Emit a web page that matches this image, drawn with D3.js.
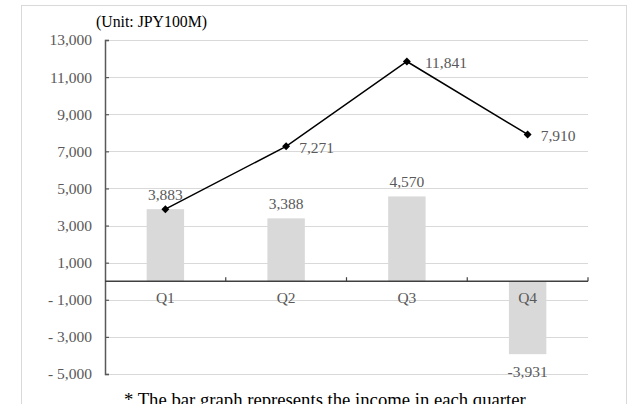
<!DOCTYPE html>
<html>
<head>
<meta charset="utf-8">
<script src="https://cdn.jsdelivr.net/npm/d3@7"></script>
<style>
  html, body { margin: 0; padding: 0; background: #fff; }
  svg { display: block; }
  text { font-family: "Liberation Serif", "Times New Roman", serif; }
</style>
</head>
<body>
<script>
// Quarterly income (bars) and running cumulative total (line), JPY 100M
const quarters = ["Q1", "Q2", "Q3", "Q4"];
const income = [3883, 3388, 4570, -3931];
const cumulative = [3883, 7271, 11841, 7910];
const yTicks = [-5000, -3000, -1000, 1000, 3000, 5000, 7000, 9000, 11000, 13000];
const unitLabel = "(Unit: JPY100M)";
const footnote = "* The bar graph represents the income in each quarter";

const W = 632, H = 404;
const svg = d3.select("body").append("svg").attr("width", W).attr("height", H);

// outer frame
svg.append("rect")
  .attr("x", 21.5).attr("y", 5.5).attr("width", 605).attr("height", 420)
  .attr("fill", "#fff").attr("stroke", "#d9d9d9").attr("stroke-width", 1);

const plot = { left: 105, right: 588, top: 40, bottom: 374 };

const x = d3.scaleBand().domain(quarters).range([plot.left, plot.right]).padding(0);
const y = d3.scaleLinear().domain([-5000, 13000]).range([plot.bottom, plot.top]);

const fmtAbs = d3.format(",");
const fmt = v => (v < 0 ? "-" : "") + fmtAbs(Math.abs(v));
const tickFmt = v => v < 0 ? "- " + fmtAbs(-v) : fmtAbs(v);

// horizontal gridlines
svg.append("g").selectAll("line").data(yTicks).join("line")
  .attr("x1", plot.left).attr("x2", plot.right)
  .attr("y1", d => Math.round(y(d)) + 0.5).attr("y2", d => Math.round(y(d)) + 0.5)
  .attr("stroke", "#d9d9d9").attr("stroke-width", 1);

// bars
const barW = x.bandwidth() * 0.31;
svg.append("g").selectAll("rect").data(income).join("rect")
  .attr("x", (d, i) => x(quarters[i]) + x.bandwidth() / 2 - barW / 2)
  .attr("y", d => y(Math.max(0, d)))
  .attr("width", barW)
  .attr("height", d => Math.abs(y(d) - y(0)))
  .attr("fill", "#d9d9d9");

// left value axis
const yAxis = d3.axisRight(y).tickValues(yTicks).tickSize(4).tickFormat("");
const ya = svg.append("g").attr("transform", `translate(${plot.left},0)`).call(yAxis);
ya.select(".domain").attr("stroke", "#595959").attr("stroke-width", 1.5);
ya.selectAll(".tick line").attr("stroke", "#595959").attr("stroke-width", 1.2);

svg.append("g").selectAll("text").data(yTicks).join("text")
  .attr("x", 92).attr("y", d => y(d))
  .attr("text-anchor", "end").attr("dy", "0.35em")
  .attr("font-size", 15.5).attr("fill", "#595959")
  .text(tickFmt);

// category axis along zero, with boundary ticks pointing up
const zeroY = y(0);
svg.append("line")
  .attr("x1", plot.left).attr("x2", plot.right)
  .attr("y1", zeroY).attr("y2", zeroY)
  .attr("stroke", "#404040").attr("stroke-width", 1.5);
const bounds = quarters.map(q => x(q) + x.bandwidth());
svg.append("g").selectAll("line").data(bounds).join("line")
  .attr("x1", d => d).attr("x2", d => d)
  .attr("y1", zeroY).attr("y2", zeroY - 4)
  .attr("stroke", "#404040").attr("stroke-width", 1.2);

svg.append("g").selectAll("text").data(quarters).join("text")
  .attr("x", d => x(d) + x.bandwidth() / 2).attr("y", zeroY + 22)
  .attr("text-anchor", "middle")
  .attr("font-size", 15.5).attr("fill", "#595959")
  .text(d => d);

// bar value labels
svg.append("g").selectAll("text").data(income).join("text")
  .attr("x", (d, i) => x(quarters[i]) + x.bandwidth() / 2)
  .attr("y", d => d >= 0 ? y(d) - 9 : y(d) + 23)
  .attr("text-anchor", "middle")
  .attr("font-size", 15.5).attr("fill", "#595959")
  .text(d => fmt(d));

// cumulative line
const cx = (d, i) => x(quarters[i]) + x.bandwidth() / 2;
svg.append("path")
  .datum(cumulative)
  .attr("d", d3.line().x(cx).y(d => y(d)))
  .attr("fill", "none").attr("stroke", "#000").attr("stroke-width", 1.5);

svg.append("g").selectAll("path").data(cumulative).join("path")
  .attr("transform", (d, i) => `translate(${cx(d, i)},${y(d)})`)
  .attr("d", d3.symbol(d3.symbolDiamond2, 40))
  .attr("fill", "#000");

// line value labels (first point shares the bar label)
svg.append("g").selectAll("text").data(cumulative.slice(1)).join("text")
  .attr("x", (d, i) => cx(d, i + 1) + (i === 1 ? 18 : 13))
  .attr("y", d => y(d) + 1)
  .attr("dy", "0.35em")
  .attr("font-size", 15.5).attr("fill", "#595959")
  .text(d => fmt(d));

// unit caption and footnote
svg.append("text")
  .attr("x", 96).attr("y", 27)
  .attr("font-size", 15.8).attr("fill", "#000")
  .text(unitLabel);

svg.append("text")
  .attr("x", 124).attr("y", 406)
  .attr("font-size", 18.7).attr("fill", "#000")
  .text(footnote);
</script>
</body>
</html>
